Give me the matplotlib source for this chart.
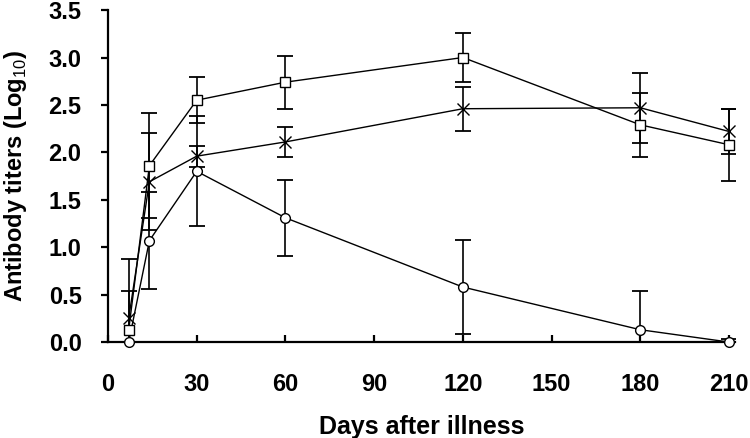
import matplotlib
matplotlib.use('Agg')
import matplotlib.pyplot as plt
import numpy as np

plt.rcParams['font.family'] = ['Liberation Sans', 'DejaVu Sans']
plt.rcParams['mathtext.fontset'] = 'custom'
plt.rcParams['mathtext.rm'] = 'Liberation Sans'
plt.rcParams['mathtext.bf'] = 'Liberation Sans:bold'

days = [7, 14, 30, 60, 120, 180, 210]

square_mean = [0.13, 1.86, 2.55, 2.74, 3.00, 2.29, 2.08]
square_sd = [0.41, 0.55, 0.24, 0.28, 0.26, 0.34, 0.38]

cross_mean = [0.25, 1.69, 1.96, 2.11, 2.46, 2.47, 2.22]
cross_sd = [0.63, 0.51, 0.11, 0.16, 0.23, 0.37, 0.24]

circle_mean = [0.00, 1.07, 1.80, 1.31, 0.58, 0.13, 0.00]
circle_sd = [0.00, 0.51, 0.58, 0.40, 0.50, 0.41, 0.03]

x_ticks = [0, 30, 60, 90, 120, 150, 180, 210]
y_ticks = [0.0, 0.5, 1.0, 1.5, 2.0, 2.5, 3.0, 3.5]

fig = plt.figure(figsize=(7.5, 4.38), dpi=100)
ax = fig.add_axes((0.144, 0.219, 0.836, 0.758))

series = [
    (square_mean, square_sd, 's', 6.5),
    (cross_mean, cross_sd, 'x', 8.5),
    (circle_mean, circle_sd, 'o', 7),
]
for mean, sd, marker, ms in series:
    ax.errorbar(days, mean, yerr=sd, fmt='none', ecolor='black',
                elinewidth=1.2, capsize=5.5, capthick=1.3, zorder=2)
    ax.plot(days, mean, color='black', linewidth=1.0, zorder=3)
    ax.plot(days, mean, linestyle='none', marker=marker, markersize=ms,
            markerfacecolor='white', markeredgecolor='black',
            markeredgewidth=1.0, zorder=4, clip_on=False)

ax.set_xlim(0, 212)
ax.set_ylim(0, 3.5)
ax.set_xticks(x_ticks)
ax.set_yticks(y_ticks)
ax.set_yticklabels([f'{v:.1f}' for v in y_ticks])

for s in ['top', 'right']:
    ax.spines[s].set_visible(False)
for s in ['left', 'bottom']:
    ax.spines[s].set_linewidth(1.6)

ax.tick_params(axis='y', direction='out', length=5, width=1.6, pad=14,
               labelsize=17)
ax.tick_params(axis='x', direction='in', length=5, width=1.6, pad=22,
               labelsize=17)
for lab in ax.get_xticklabels() + ax.get_yticklabels():
    lab.set_fontweight('bold')

ax.set_xlabel('Days after illness', fontsize=18, fontweight='bold', labelpad=14)
ax.set_ylabel(r'Antibody titers (Log$_{\mathrm{10}}$)', fontsize=17,
              fontweight='bold', labelpad=14)

fig.savefig('out.png', dpi=100)
